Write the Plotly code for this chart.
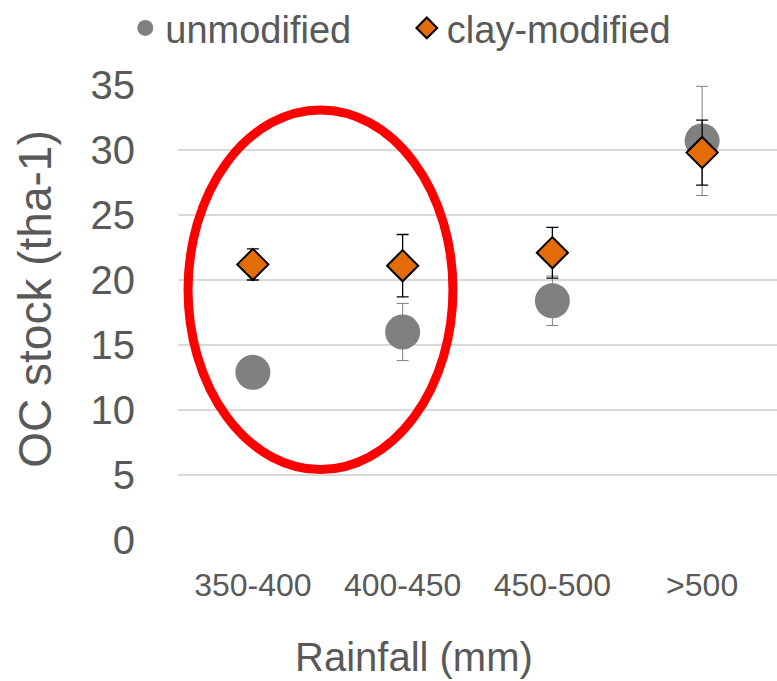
import plotly.graph_objects as go

categories = ["350-400", "400-450", "450-500", ">500"]
unmodified = [12.9, 16.0, 18.4, 30.7]
unmodified_err = [0.9, 2.2, 1.9, 4.2]
clay_modified = [21.2, 21.1, 22.1, 29.8]
clay_modified_err = [1.2, 2.4, 1.95, 2.5]
y_ticks = [0, 5, 10, 15, 20, 25, 30, 35]

# highlight ellipse (data coordinates: category index, y value)
ellipse_x = [-0.433, 1.336]
ellipse_y = [5.42, 33.08]

FONT = "Liberation Sans, Arial, sans-serif"
TXT = "#595959"

fig = go.Figure()
fig.add_trace(go.Scatter(
    x=categories, y=unmodified, mode="markers", name="unmodified", legend="legend",
    marker=dict(symbol="circle", size=35, color="#808080"),
    error_y=dict(type="data", array=unmodified_err, color="#7f7f7f", thickness=1, width=6),
))
fig.add_trace(go.Scatter(
    x=categories, y=clay_modified, mode="markers", name="clay-modified", legend="legend2",
    marker=dict(symbol="diamond", size=24, color="#e36c09", line=dict(color="black", width=2)),
    error_y=dict(type="data", array=clay_modified_err, color="black", thickness=1.3, width=6),
))

fig.add_shape(type="circle", xref="x", yref="y",
              x0=ellipse_x[0], x1=ellipse_x[1], y0=ellipse_y[0], y1=ellipse_y[1],
              line=dict(color="#ff0000", width=9), layer="above")

fig.add_annotation(text="Rainfall (mm)", xref="paper", yref="paper", x=0.394, y=-0.257,
                   xanchor="center", yanchor="middle",
                   showarrow=False, font=dict(family=FONT, size=40, color=TXT))
fig.add_annotation(text="OC stock (tha-1)", xref="paper", yref="paper", x=-0.239, y=0.53,
                   xanchor="center", yanchor="middle",
                   textangle=-90, showarrow=False, font=dict(family=FONT, size=46, color=TXT))

leg_common = dict(orientation="h", yanchor="top", y=1.194, xanchor="left",
                  font=dict(family=FONT, size=38, color=TXT), itemsizing="trace",
                  bgcolor="rgba(0,0,0,0)", borderwidth=0)

fig.update_layout(
    width=777, height=681,
    margin=dict(l=178, r=0, t=85, b=141, autoexpand=False),
    paper_bgcolor="white", plot_bgcolor="white",
    font=dict(family=FONT, color=TXT),
    showlegend=True,
    legend=dict(leg_common, x=-0.088),
    legend2=dict(leg_common, x=0.382),
    xaxis=dict(type="category", range=[-0.5, 3.5], showgrid=False, zeroline=False,
               showline=False, ticks="", tickfont=dict(family=FONT, size=32, color=TXT),
               ticklabelstandoff=23, fixedrange=True),
    yaxis=dict(range=[0, 35], tickvals=y_ticks, showgrid=True, gridcolor="#d9d9d9",
               gridwidth=2, zeroline=False, showline=False, ticks="",
               tickfont=dict(family=FONT, size=40, color=TXT), ticklabelstandoff=42,
               fixedrange=True),
)

fig.write_html("out.html")
